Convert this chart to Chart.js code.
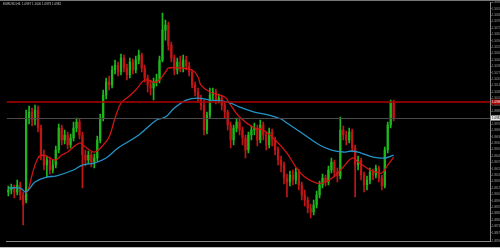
<!DOCTYPE html>
<html>
<head>
<meta charset="utf-8">
<script src="https://cdn.jsdelivr.net/npm/chart.js@4"></script>
<style>
  html, body { margin: 0; padding: 0; background: #000; }
  #wrap { width: 500px; height: 248px; }
</style>
</head>
<body>
<div id="wrap"><canvas id="grafico" width="500" height="248"></canvas></div>
<script>
'use strict'

// velas (H4)
let open = [1.0908,1.0910,1.0912,1.0908,1.0915,1.0905,1.0900,1.0982,1.0988,1.0980,
1.0990,1.0972,1.0945,1.0935,1.0940,1.0930,1.0935,1.0950,1.0972,1.0960,
1.0965,1.0955,1.0962,1.0972,1.0978,1.0965,1.0945,1.0940,1.0945,1.0938,
1.0942,1.0960,1.0982,1.1005,1.1018,1.1015,1.1030,1.1035,1.1028,1.1042,
1.1032,1.1025,1.1038,1.1030,1.1040,1.1045,1.1032,1.1022,1.1015,1.1012,
1.1018,1.1020,1.1040,1.1070,1.1075,1.1055,1.1042,1.1030,1.1038,1.1032,
1.1040,1.1034,1.1028,1.1015,1.1008,1.1002,1.0995,1.0970,1.0985,1.1005,
1.1008,1.1000,1.1002,1.0995,1.0988,1.0975,1.0960,1.0972,1.0978,1.0970,
1.0962,1.0950,1.0965,1.0970,1.0972,1.0960,1.0975,1.0965,1.0955,1.0968,
1.0960,1.0950,1.0940,1.0935,1.0922,1.0918,1.0925,1.0920,1.0928,1.0915,
1.0905,1.0900,1.0892,1.0888,1.0895,1.0905,1.0915,1.0922,1.0918,1.0930,
1.0938,1.0928,1.0924,1.0970,1.0965,1.0960,1.0968,1.0952,1.0935,1.0940,
1.0925,1.0915,1.0920,1.0928,1.0925,1.0932,1.0922,1.0914,1.0950,1.0975,
1.0997];

let close = [1.0910,1.0912,1.0908,1.0915,1.0905,1.0895,1.0982,1.0988,1.0980,1.0990,
1.0972,1.0945,1.0935,1.0940,1.0930,1.0935,1.0950,1.0972,1.0960,1.0965,
1.0955,1.0962,1.0972,1.0978,1.0965,1.0945,1.0940,1.0945,1.0938,1.0942,
1.0960,1.0982,1.1005,1.1018,1.1015,1.1030,1.1035,1.1028,1.1042,1.1032,
1.1025,1.1038,1.1030,1.1040,1.1045,1.1032,1.1022,1.1015,1.1012,1.1018,
1.1020,1.1040,1.1070,1.1075,1.1055,1.1042,1.1030,1.1038,1.1032,1.1040,
1.1034,1.1028,1.1015,1.1008,1.1002,1.0995,1.0970,1.0985,1.1005,1.1008,
1.1000,1.1002,1.0995,1.0988,1.0975,1.0960,1.0972,1.0978,1.0970,1.0962,
1.0950,1.0965,1.0970,1.0972,1.0960,1.0975,1.0965,1.0955,1.0968,1.0960,
1.0950,1.0940,1.0935,1.0922,1.0918,1.0925,1.0920,1.0928,1.0915,1.0905,
1.0900,1.0892,1.0888,1.0895,1.0905,1.0915,1.0922,1.0918,1.0930,1.0938,
1.0928,1.0924,1.0970,1.0965,1.0960,1.0968,1.0952,1.0935,1.0940,1.0925,
1.0915,1.0920,1.0928,1.0925,1.0932,1.0922,1.0914,1.0950,1.0975,1.0997,
1.0982];

let high = [1.0914,1.0916,1.0915,1.0920,1.0918,1.0908,1.0990,1.0994,1.0992,1.0995,
1.0994,1.0975,1.0950,1.0944,1.0943,1.0940,1.0954,1.0976,1.0975,1.0970,
1.0968,1.0966,1.0978,1.0982,1.0981,1.0968,1.0950,1.0949,1.0948,1.0946,
1.0964,1.0986,1.1010,1.1022,1.1024,1.1034,1.1040,1.1038,1.1046,1.1045,
1.1036,1.1042,1.1041,1.1044,1.1050,1.1047,1.1035,1.1025,1.1020,1.1022,
1.1026,1.1044,1.1087,1.1080,1.1078,1.1058,1.1045,1.1042,1.1044,1.1045,
1.1044,1.1038,1.1030,1.1018,1.1012,1.1005,1.1000,1.0988,1.1012,1.1012,
1.1011,1.1006,1.1005,1.0998,1.0990,1.0978,1.0975,1.0982,1.0981,1.0973,
1.0965,1.0968,1.0974,1.0977,1.0975,1.0980,1.0978,1.0968,1.0972,1.0971,
1.0963,1.0953,1.0944,1.0938,1.0926,1.0929,1.0930,1.0932,1.0931,1.0918,
1.0910,1.0903,1.0896,1.0900,1.0909,1.0919,1.0926,1.0925,1.0934,1.0942,
1.0940,1.0932,1.0983,1.0974,1.0969,1.0972,1.0971,1.0955,1.0944,1.0942,
1.0928,1.0924,1.0932,1.0931,1.0935,1.0934,1.0925,1.0953,1.0978,1.1000,
1.1000];

let low = [1.0904,1.0906,1.0902,1.0905,1.0900,1.0875,1.0897,1.0976,1.0974,1.0975,
1.0968,1.0940,1.0930,1.0923,1.0926,1.0927,1.0932,1.0947,1.0955,1.0956,
1.0951,1.0952,1.0959,1.0968,1.0961,1.0912,1.0934,1.0936,1.0933,1.0932,
1.0939,1.0957,1.0979,1.1001,1.1010,1.1012,1.1026,1.1024,1.1025,1.1028,
1.1020,1.1022,1.1026,1.1027,1.1036,1.1028,1.1018,1.1008,1.1005,1.1000,
1.1014,1.1017,1.1038,1.1060,1.1050,1.1038,1.1025,1.1026,1.1028,1.1028,
1.1030,1.1024,1.1012,1.1004,1.0998,1.0990,1.0965,1.0966,1.0982,1.1000,
1.0996,1.0997,1.0990,1.0982,1.0970,1.0952,1.0955,1.0968,1.0965,1.0955,
1.0942,1.0947,1.0960,1.0965,1.0954,1.0957,1.0960,1.0950,1.0952,1.0954,
1.0945,1.0935,1.0928,1.0916,1.0903,1.0914,1.0915,1.0916,1.0910,1.0900,
1.0894,1.0887,1.0882,1.0885,1.0892,1.0902,1.0912,1.0914,1.0915,1.0927,
1.0923,1.0918,1.0921,1.0960,1.0955,1.0957,1.0948,1.0903,1.0930,1.0920,
1.0908,1.0910,1.0916,1.0920,1.0922,1.0918,1.0910,1.0912,1.0947,1.0972,
1.0979];

let maRapidaIdx = [6,7,8,10,12,14,16,18,20,24,26,29,32,34,36,38,40,43,46,50,53,54,58,62,64,65,68,73,75,78,83,86,90,94,97,100,104,107,110,113,116,118,122,124,126,128,130];
let maRapida = [1.0907,1.0913,1.0925,1.0942,1.0945,1.0942,1.0940,1.0945,1.0948,1.0957,1.0953,1.0948,1.0955,1.0963,1.0982,1.0997,1.1002,1.1010,1.1020,1.1018,1.1028,1.1032,1.1032,1.1030,1.1023,1.1015,1.1008,1.1003,1.0995,1.0983,1.0972,1.0970,1.0960,1.0947,1.0933,1.0923,1.0917,1.0918,1.0924,1.0933,1.0942,1.0938,1.0930,1.0928,1.0927,1.0935,1.0943];
let maLentaIdx = [0,4,6,9,13,16,22,25,29,33,37,44,50,53,56,60,64,68,74,78,83,88,92,94,99,105,109,113,116,119,123,127,130];
let maLenta = [1.0912,1.0912,1.0908,1.0918,1.0923,1.0924,1.0930,1.0935,1.0937,1.0942,1.0952,1.0965,1.0980,1.0983,1.0992,1.1000,1.1002,1.1000,1.0998,1.0993,1.0988,1.0985,1.0981,1.0977,1.0967,1.0955,1.0950,1.0948,1.0949,1.0947,1.0943,1.0942,1.0945];

// etiquetas eje x (cada 4 velas)
let fechas = ['1 Jun 00:00','1 Jun 16:00','2 Jun 08:00','3 Jun 00:00','3 Jun 16:00','4 Jun 08:00','5 Jun 00:00','5 Jun 16:00','6 Jun 08:00','7 Jun 00:00','7 Jun 16:00','8 Jun 08:00','9 Jun 00:00','9 Jun 16:00','10 Jun 08:00','11 Jun 00:00','11 Jun 16:00','12 Jun 08:00','13 Jun 00:00','13 Jun 16:00','14 Jun 08:00','15 Jun 00:00','15 Jun 16:00','16 Jun 08:00','17 Jun 00:00','17 Jun 16:00','18 Jun 08:00','19 Jun 00:00','19 Jun 16:00','20 Jun 08:00','21 Jun 00:00','21 Jun 16:00','22 Jun 08:00'];

let nivelRojo = 1.0998;
let precioBid = 1.0982;
let titulo = 'EURUSD,H4  1.0997 1.1000 1.0979 1.0982';
let totalSlots = 163;

let verde = '#1cb81c';
let rojo = '#c01616';

let etiquetas = [];
for (let i = 0; i < totalSlots; i++) {
    etiquetas.push(i % 4 == 0 && i / 4 < fechas.length ? fechas[i / 4] : '');
}

let mechas = [], cuerpos = [], colores = [];
for (let i = 0; i < open.length; i++) {
    mechas.push([low[i], high[i]]);
    cuerpos.push([open[i], close[i]]);
    colores.push(close[i] >= open[i] ? verde : rojo);
}

function serie(idx, vals) {
    let d = new Array(open.length).fill(null);
    idx.forEach(function(k, j){ d[k] = vals[j]; });
    return d;
}

// marco, titulo y cajas de precio
const marco = {
    id: 'marco',
    afterDraw(chart) {
        const ctx = chart.ctx;
        const a = chart.chartArea;
        const y = chart.scales.y;
        ctx.save();
        ctx.strokeStyle = '#777';
        ctx.lineWidth = 1;
        ctx.beginPath();
        ctx.moveTo(0, 0.5); ctx.lineTo(500, 0.5);
        ctx.stroke();
        ctx.strokeStyle = '#bbb';
        ctx.beginPath();
        ctx.moveTo(0, 247.5); ctx.lineTo(500, 247.5);
        ctx.stroke();

        // lineas horizontales
        let yr = y.getPixelForValue(nivelRojo);
        ctx.strokeStyle = '#b00000';
        ctx.lineWidth = 1.5;
        ctx.beginPath(); ctx.moveTo(a.left, yr); ctx.lineTo(a.right, yr); ctx.stroke();
        let yb = y.getPixelForValue(precioBid);
        ctx.strokeStyle = '#4a4a4a';
        ctx.lineWidth = 1;
        ctx.beginPath(); ctx.moveTo(a.left, Math.round(yb) + 0.5); ctx.lineTo(a.right, Math.round(yb) + 0.5); ctx.stroke();

        ctx.font = '3px Arial';
        ctx.textBaseline = 'middle';
        ctx.fillStyle = '#b00000';
        ctx.fillRect(a.right + 1, yr - 2.5, 9, 5);
        ctx.fillStyle = '#fff';
        ctx.fillText(nivelRojo.toFixed(5), a.right + 2, yr);
        ctx.fillStyle = '#e8e8e8';
        ctx.fillRect(a.right + 1, yb - 2.5, 9, 5);
        ctx.fillStyle = '#000';
        ctx.fillText(precioBid.toFixed(5), a.right + 2, yb);

        ctx.fillStyle = '#c8c8c8';
        ctx.textBaseline = 'top';
        ctx.fillText(titulo, 3, 2.5);
        ctx.restore();
    }
};

const ctx = document.getElementById('grafico').getContext('2d');
const myChart = new Chart(ctx, {
    type: 'bar',
    data: {
        labels: etiquetas,
        datasets: [{
            type: 'line',
            data: serie(maLentaIdx, maLenta),
            borderColor: '#2494c8',
            borderWidth: 1.3,
            pointRadius: 0,
            spanGaps: true,
            tension: 0.4,
            order: 0
        },{
            type: 'line',
            data: serie(maRapidaIdx, maRapida),
            borderColor: '#d01414',
            borderWidth: 1.3,
            pointRadius: 0,
            spanGaps: true,
            tension: 0.4,
            order: 1
        },{
            data: mechas,
            backgroundColor: colores,
            barThickness: 1,
            grouped: false,
            order: 3
        },{
            data: cuerpos,
            backgroundColor: colores,
            barThickness: 1.6,
            grouped: false,
            minBarLength: 1,
            order: 2
        }]
    },
    options: {
        responsive: false,
        animation: false,
        events: [],
        layout: {
            padding: { top: 2, left: 1, right: 0, bottom: 1 }
        },
        plugins: {
            legend: { display: false },
            tooltip: { enabled: false }
        },
        scales: {
            x: {
                offset: true,
                grid: { display: false },
                border: { display: true, color: '#888' },
                ticks: {
                    color: '#bbb',
                    font: { size: 3, family: 'Arial' },
                    autoSkip: false,
                    maxRotation: 0,
                    padding: 0.5
                },
                afterFit(s) { s.height = 6; }
            },
            y: {
                position: 'right',
                min: 1.0859,
                max: 1.1098,
                grid: { drawOnChartArea: false, color: '#888', tickLength: 1.5 },
                border: { display: true, color: '#888' },
                ticks: {
                    stepSize: 0.00064,
                    maxTicksLimit: 100,
                    autoSkip: false,
                    color: '#aaa',
                    font: { size: 2.6, family: 'Arial' },
                    padding: 0.5,
                    callback: function(v){ return v.toFixed(5); }
                },
                afterFit(s) { s.width = 10; }
            }
        }
    },
    plugins: [marco]
});
</script>
</body>
</html>
